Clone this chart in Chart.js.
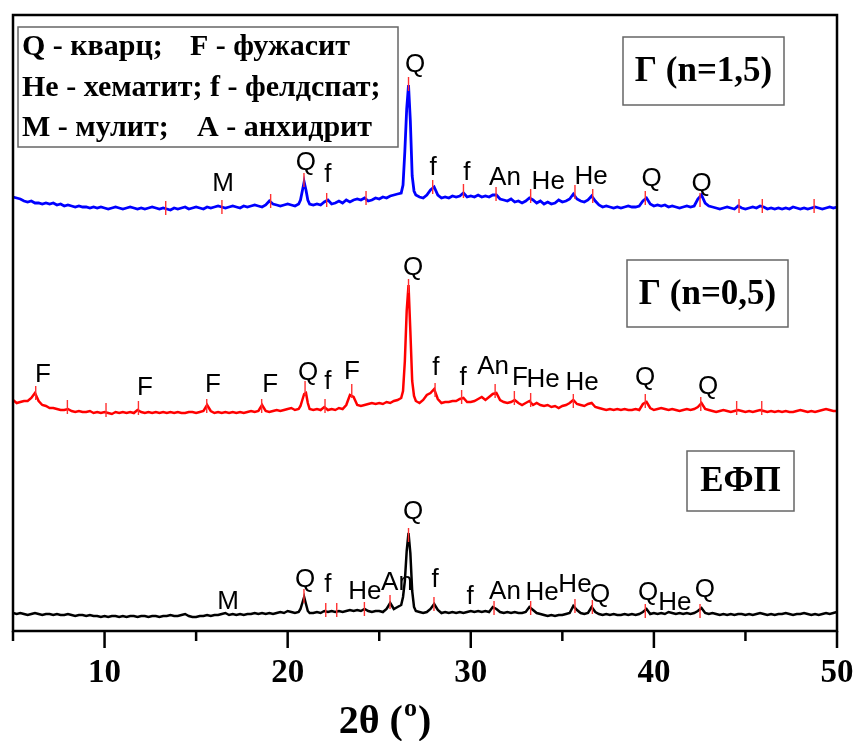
<!DOCTYPE html>
<html>
<head>
<meta charset="utf-8">
<script src="https://cdn.jsdelivr.net/npm/chart.js@4.4.1/dist/chart.umd.min.js"></script>
<style>
  html, body { margin: 0; padding: 0; background: #fff; }
  #wrap { width: 858px; height: 741px; }
</style>
</head>
<body>
<div id="wrap"><canvas id="xrdChart" width="858" height="741"></canvas></div>
<script>
// 2theta grid (deg)
const twoTheta = [
  5.0, 5.2, 5.4, 5.6, 5.8, 6.0, 6.2, 6.4, 6.6, 6.8,
  7.0, 7.2, 7.4, 7.6, 7.8, 8.0, 8.2, 8.4, 8.6, 8.8,
  9.0, 9.2, 9.4, 9.6, 9.8, 10.0, 10.2, 10.4, 10.6, 10.8,
  11.0, 11.2, 11.4, 11.6, 11.8, 12.0, 12.2, 12.4, 12.6, 12.8,
  13.0, 13.2, 13.4, 13.6, 13.8, 14.0, 14.2, 14.4, 14.6, 14.8,
  15.0, 15.2, 15.4, 15.6, 15.8, 16.0, 16.2, 16.4, 16.6, 16.8,
  17.0, 17.2, 17.4, 17.6, 17.8, 18.0, 18.2, 18.4, 18.6, 18.8,
  19.0, 19.2, 19.4, 19.6, 19.8, 20.0, 20.2, 20.4, 20.6,
  20.7, 20.8, 20.9, 21.0, 21.1, 21.2,
  21.4, 21.6, 21.8, 22.0, 22.2, 22.4, 22.6, 22.8,
  23.0, 23.2, 23.4, 23.6, 23.8, 24.0, 24.2, 24.4, 24.6, 24.8,
  25.0, 25.2, 25.4, 25.6, 25.8, 26.0, 26.2,
  26.3, 26.4, 26.5, 26.6, 26.7, 26.8, 26.9, 27.0,
  27.2, 27.4, 27.6, 27.8, 28.0, 28.2, 28.4, 28.6, 28.8,
  29.0, 29.2, 29.4, 29.6, 29.8, 30.0, 30.2, 30.4, 30.6, 30.8,
  31.0, 31.2, 31.4, 31.6, 31.8, 32.0, 32.2, 32.4, 32.6, 32.8,
  33.0, 33.2, 33.4, 33.6, 33.8, 34.0, 34.2, 34.4, 34.6, 34.8,
  35.0, 35.2, 35.4, 35.6, 35.8, 36.0, 36.2, 36.4, 36.6, 36.8,
  37.0, 37.2, 37.4, 37.6, 37.8, 38.0, 38.2, 38.4, 38.6, 38.8,
  39.0, 39.2, 39.4, 39.6, 39.8, 40.0, 40.2, 40.4, 40.6, 40.8,
  41.0, 41.2, 41.4, 41.6, 41.8, 42.0, 42.2, 42.4, 42.6, 42.8,
  43.0, 43.2, 43.4, 43.6, 43.8, 44.0, 44.2, 44.4, 44.6, 44.8,
  45.0, 45.2, 45.4, 45.6, 45.8, 46.0, 46.2, 46.4, 46.6, 46.8,
  47.0, 47.2, 47.4, 47.6, 47.8, 48.0, 48.2, 48.4, 48.6, 48.8,
  49.0, 49.2, 49.4, 49.6, 49.8, 50.0
];

// intensities (a.u., already stacked with offset)
const intensityEFP = [
  18, 17, 18, 17, 16, 17, 18, 17, 16, 17,
  17, 16, 17, 16, 16, 17, 16, 15, 16, 16,
  15, 16, 15, 15, 14, 15, 14, 15, 15, 14,
  15, 14, 15, 15, 14, 15, 15, 14, 15, 15,
  14, 15, 15, 16, 15, 15, 16, 17, 15, 14,
  14, 15, 15, 16, 15, 16, 16, 17, 18, 16,
  17, 16, 17, 16, 17, 17, 18, 17, 18, 17,
  18, 17, 18, 19, 18, 20, 19, 18, 19,
  22, 28, 34, 27, 20, 18,
  18, 19, 18, 20, 19, 20, 19, 20,
  19, 20, 21, 20, 21, 20, 22, 20, 19, 20,
  20, 19, 22, 28, 22, 24, 26,
  34, 50, 80, 98, 78, 40, 24, 20,
  19, 18, 19, 22, 27, 21, 18, 19, 18,
  19, 18, 19, 18, 19, 20, 19, 20, 19, 20,
  19, 24, 22, 19, 18, 19, 18, 19, 18, 18,
  19, 24, 21, 18, 17, 16, 15, 16, 15, 16,
  16, 17, 18, 25, 21, 18, 17, 18, 24, 19,
  17, 16, 17, 16, 17, 16, 16, 17, 16, 17,
  16, 17, 19, 22, 17, 18, 17, 18, 17, 19,
  18, 17, 18, 17, 18, 17, 18, 20, 23, 18,
  17, 18, 17, 16, 17, 16, 17, 16, 17, 17,
  16, 17, 16, 17, 18, 17, 16, 17, 16, 17,
  17, 18, 17, 16, 17, 17, 18, 17, 16, 17,
  16, 17, 18, 17, 18, 19
];

const intensityN05 = [
  231, 228, 229, 230, 230, 233, 238, 230, 226, 225,
  223, 223, 222, 221, 221, 222, 220, 219, 220, 219,
  219, 220, 218, 219, 218, 219, 218, 217, 219, 218,
  219, 218, 219, 218, 221, 219, 218, 219, 218, 219,
  218, 219, 218, 219, 218, 219, 218, 218, 219, 219,
  218, 219, 220, 226, 220, 218, 219, 218, 219, 218,
  219, 218, 219, 218, 219, 220, 219, 220, 226, 220,
  219, 220, 221, 220, 221, 222, 223, 221, 222,
  225, 231, 237, 238, 228, 222,
  221, 222, 221, 224, 221, 222, 221, 223,
  222, 226, 236, 234, 226, 225, 226, 227, 228, 227,
  228, 227, 229, 228, 230, 231, 233,
  240, 270, 320, 346, 300, 250, 235, 230,
  228, 231, 236, 238, 242, 232, 228, 229, 229,
  230, 230, 232, 233, 229, 229, 230, 232, 234, 231,
  234, 237, 238, 231, 229, 228, 229, 231, 228, 226,
  228, 230, 226, 228, 226, 225, 226, 224, 225, 223,
  225, 226, 228, 231, 227, 226, 225, 227, 228, 224,
  223, 222, 221, 222, 221, 222, 221, 222, 221, 221,
  222, 221, 227, 229, 223, 221, 222, 223, 222, 221,
  222, 221, 220, 221, 222, 221, 222, 224, 228, 222,
  221, 220, 219, 220, 221, 220, 219, 220, 221, 220,
  219, 220, 219, 220, 221, 220, 219, 220, 219, 220,
  219, 220, 219, 219, 220, 221, 220, 219, 220, 219,
  220, 221, 222, 221, 220, 220
];

const intensityN15 = [
  434, 433, 432, 430, 429, 430, 428, 428, 427, 428,
  427, 428, 426, 427, 425, 426, 425, 424, 425, 424,
  424, 423, 424, 423, 424, 423, 422, 423, 424, 423,
  422, 423, 424, 423, 422, 423, 422, 423, 424, 423,
  422, 423, 422, 421, 423, 422, 423, 424, 422, 423,
  424, 423, 422, 424, 423, 424, 425, 424, 423, 424,
  425, 424, 423, 425, 424, 425, 426, 425, 424, 426,
  430, 427, 426, 425, 426, 427, 426, 425, 427,
  431, 440, 449, 441, 431, 427,
  426, 427, 426, 429, 431, 427, 428, 430,
  428, 431, 429, 431, 432, 431, 433, 430, 431, 433,
  432, 434, 433, 435, 436, 437, 438,
  446, 480, 522, 546, 510, 455, 440, 436,
  434, 433, 436, 441, 444, 436, 433, 434, 433,
  435, 434, 435, 438, 434, 435, 434, 436, 434, 435,
  434, 436, 436, 432, 431, 430, 432, 429, 430, 428,
  430, 433, 431, 428, 430, 427, 429, 427, 428, 431,
  429, 430, 432, 437, 432, 430, 429, 431, 435, 430,
  426, 424, 425, 424, 423, 424, 423, 424, 425, 424,
  424, 425, 430, 433, 427, 425, 426, 425, 426, 424,
  425, 424, 423, 424, 425, 424, 425, 432, 436, 428,
  425, 424, 423, 422, 423, 424, 423, 422, 425, 423,
  422, 423, 424, 423, 425, 424, 422, 423, 422, 423,
  422, 423, 422, 424, 423, 422, 423, 422, 423, 424,
  423, 422, 423, 424, 423, 424
];

// phase reference marks (red): position and height
const markPosEFP = [20.89, 22.08, 22.68, 24.19, 25.59, 26.6, 27.99, 31.27, 33.27, 35.69, 36.64, 39.53, 42.52];
const markHEFP   = [35, 21, 21, 22, 29, 96, 27, 23, 23, 25, 24, 20, 20];
const markPosN05 = [6.24, 7.97, 10.08, 11.85, 15.58, 18.58, 20.95, 22.04, 23.5, 26.6, 28.05, 29.5, 31.33, 32.38, 33.27, 35.6, 39.53, 42.56, 44.52, 45.89];
const markHN05   = [238, 224, 221, 223, 225, 225, 243, 225, 240, 345, 241, 234, 240, 233, 231, 230, 230, 227, 223, 223];
const markPosN15 = [13.34, 16.41, 19.07, 20.89, 22.13, 24.28, 26.6, 27.92, 29.6, 31.38, 33.27, 35.69, 36.66, 39.53, 42.52, 44.65, 45.92, 48.75];
const markHN15   = [423, 424, 430, 451, 431, 433, 547, 444, 440, 437, 435, 439, 435, 433, 431, 425, 425, 425];

// peak labels
const labelTextEFP = ['M', 'Q', 'f', 'He', 'An', 'Q', 'f', 'f', 'An', 'He', 'He', 'Q', 'Q', 'He', 'Q'];
const labelPosEFP  = [16.74, 20.95, 22.2, 24.22, 25.97, 26.85, 28.05, 29.96, 31.87, 33.89, 35.69, 37.06, 39.68, 41.15, 42.79];
const labelHEFP    = [29, 51, 46, 39, 48, 119, 51, 34, 39, 38, 46, 36, 38, 28, 41];
const labelTextN05 = ['F', 'F', 'F', 'F', 'Q', 'f', 'F', 'Q', 'f', 'f', 'An', 'F', 'He', 'He', 'Q', 'Q'];
const labelPosN05  = [6.64, 12.21, 15.92, 19.04, 21.11, 22.2, 23.51, 26.85, 28.1, 29.58, 31.22, 32.69, 33.95, 36.08, 39.52, 42.96];
const labelHN05    = [256, 243, 246, 246, 258, 249, 259, 363, 263, 253, 264, 253, 251, 248, 253, 244];
const labelTextN15 = ['M', 'Q', 'f', 'Q', 'f', 'f', 'An', 'He', 'He', 'Q', 'Q'];
const labelPosN15  = [16.47, 21.0, 22.2, 26.96, 27.94, 29.78, 31.87, 34.23, 36.57, 39.88, 42.61];
const labelHN15    = [447, 468, 456, 566, 463, 458, 453, 449, 454, 452, 447];

const majorTicks = [10, 20, 30, 40, 50];
const minorTicks = [5, 15, 25, 35, 45];

function toPoints(ys) {
  return twoTheta.map((t, i) => ({ x: t, y: ys[i] }));
}

const serif = '"Liberation Serif", "Times New Roman", serif';
const sans = '"Liberation Sans", Arial, sans-serif';

const xrdDecor = {
  id: 'xrdDecor',
  afterDatasetsDraw(chart) {
    const ctx = chart.ctx;
    const a = chart.chartArea;
    const x = chart.scales.x;
    const y = chart.scales.y;
    ctx.save();

    // red reference marks
    ctx.strokeStyle = '#ff3030';
    ctx.lineWidth = 1.4;
    [[markPosEFP, markHEFP], [markPosN05, markHN05], [markPosN15, markHN15]].forEach(function (m) {
      m[0].forEach(function (p, i) {
        const px = x.getPixelForValue(p);
        const py = y.getPixelForValue(m[1][i]);
        ctx.beginPath();
        ctx.moveTo(px, py - 7);
        ctx.lineTo(px, py + 7);
        ctx.stroke();
      });
    });

    // phase letters
    ctx.fillStyle = '#000';
    ctx.font = '26px ' + sans;
    ctx.textAlign = 'center';
    ctx.textBaseline = 'middle';
    [[labelTextEFP, labelPosEFP, labelHEFP], [labelTextN05, labelPosN05, labelHN05], [labelTextN15, labelPosN15, labelHN15]].forEach(function (l) {
      l[0].forEach(function (txt, i) {
        ctx.fillText(txt, x.getPixelForValue(l[1][i]), y.getPixelForValue(l[2][i]));
      });
    });

    // frame
    ctx.strokeStyle = '#000';
    ctx.lineWidth = 2.5;
    ctx.strokeRect(a.left, a.top, a.right - a.left, a.bottom - a.top);

    // x tick marks (outside)
    majorTicks.forEach(function (v) {
      const px = x.getPixelForValue(v);
      ctx.beginPath(); ctx.moveTo(px, a.bottom); ctx.lineTo(px, a.bottom + 17); ctx.stroke();
    });
    minorTicks.forEach(function (v) {
      const px = x.getPixelForValue(v);
      ctx.beginPath(); ctx.moveTo(px, a.bottom); ctx.lineTo(px, a.bottom + 10); ctx.stroke();
    });

    // axis title 2θ (°)
    ctx.textAlign = 'left';
    ctx.textBaseline = 'alphabetic';
    ctx.font = 'bold 40px ' + serif;
    const p1 = '2θ (';
    const w1 = ctx.measureText(p1).width;
    ctx.font = 'bold 26px ' + serif;
    const w2 = ctx.measureText('o').width;
    ctx.font = 'bold 40px ' + serif;
    const w3 = ctx.measureText(')').width;
    let tx = 384 - (w1 + w2 + w3) / 2;
    ctx.fillText(p1, tx, 733);
    ctx.font = 'bold 26px ' + serif;
    ctx.fillText('o', tx + w1 + 1, 716);
    ctx.font = 'bold 40px ' + serif;
    ctx.fillText(')', tx + w1 + w2 + 2, 733);

    // legend of phases
    ctx.strokeStyle = '#666';
    ctx.lineWidth = 1.5;
    ctx.strokeRect(18, 27, 380, 120);
    ctx.font = 'bold 30px ' + serif;
    ctx.textBaseline = 'middle';
    ctx.fillText('Q - кварц;', 22, 47);
    ctx.fillText('F - фужасит', 190, 47);
    ctx.fillText('He - хематит; f - фелдспат;', 22, 88, 372);
    ctx.fillText('M - мулит;', 22, 128);
    ctx.fillText('A - анхидрит', 197, 128);

    // sample name boxes
    ctx.textAlign = 'center';
    ctx.font = 'bold 35px ' + serif;
    [['Г (n=1,5)', 623, 37, 161, 68], ['Г (n=0,5)', 627, 260, 161, 67], ['ЕФП', 687, 451, 107, 60]].forEach(function (b) {
      ctx.strokeRect(b[1], b[2], b[3], b[4]);
      ctx.fillText(b[0], b[1] + b[3] / 2, b[2] + b[4] / 2 + 1);
    });

    ctx.restore();
  }
};

new Chart(document.getElementById('xrdChart').getContext('2d'), {
  type: 'line',
  data: {
    datasets: [
      { label: 'ЕФП', data: toPoints(intensityEFP), borderColor: '#000000', borderWidth: 2.5 },
      { label: 'Г (n=0,5)', data: toPoints(intensityN05), borderColor: '#ff0000', borderWidth: 2.5 },
      { label: 'Г (n=1,5)', data: toPoints(intensityN15), borderColor: '#0000ff', borderWidth: 2.8 }
    ]
  },
  options: {
    responsive: false,
    animation: false,
    events: [],
    elements: { point: { radius: 0 }, line: { tension: 0 } },
    layout: { padding: { left: 13, right: 21, top: 15, bottom: 0 } },
    plugins: { legend: { display: false }, tooltip: { enabled: false } },
    scales: {
      x: {
        type: 'linear',
        min: 5,
        max: 50,
        afterBuildTicks: function (scale) {
          scale.ticks = majorTicks.map(function (v) { return { value: v }; });
        },
        afterFit: function (scale) {
          scale.height = 110;
          scale.paddingLeft = 0;
          scale.paddingRight = 0;
        },
        grid: { display: false, drawTicks: false },
        border: { display: false },
        ticks: {
          autoSkip: false,
          maxRotation: 0,
          padding: 23,
          color: '#000',
          font: { family: serif, weight: 'bold', size: 33 }
        }
      },
      y: { display: false, min: 0, max: 616 }
    }
  },
  plugins: [xrdDecor]
});
</script>
</body>
</html>
